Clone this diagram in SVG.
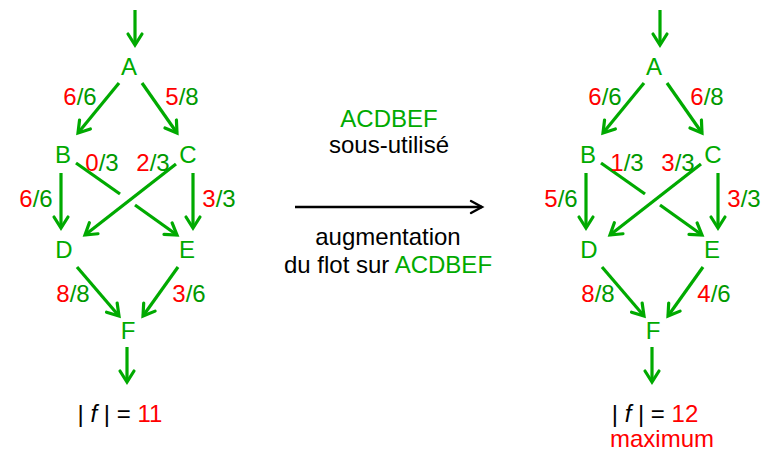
<svg xmlns="http://www.w3.org/2000/svg" width="776" height="453" viewBox="0 0 776 453">
<style>
text{font-family:"Liberation Sans",Arial,sans-serif;font-size:24px;text-anchor:middle}
.n{fill:#00AA00}
.g{fill:#009900}
.r{fill:#FF0000}
.k{fill:#000000}
.e{stroke:#00AA00;stroke-width:3.2;fill:none}
.ea{stroke:#00AA00;stroke-width:3.2;fill:none;marker-end:url(#ah)}
</style>
<defs>
<marker id="ah" markerUnits="userSpaceOnUse" markerWidth="20" markerHeight="20" viewBox="-14 -10 16 20" refX="0" refY="0" orient="auto">
<path d="M-11,-7 L0,0 L-11,7" fill="none" stroke="#00AA00" stroke-width="3.2" stroke-linecap="round" stroke-linejoin="miter"/>
</marker>
<marker id="bh" markerUnits="userSpaceOnUse" markerWidth="20" markerHeight="20" viewBox="-14 -10 16 20" refX="0" refY="0" orient="auto">
<path d="M-11,-6 L0,0 L-11,6" fill="none" stroke="#000" stroke-width="2.4" stroke-linecap="round"/>
</marker>
</defs>
<rect width="776" height="453" fill="#fff"/>

<g id="connectors">
<!-- left graph -->
<line class="ea" x1="135" y1="10" x2="135" y2="45"/>
<line class="ea" x1="119" y1="83" x2="78" y2="133"/>
<line class="ea" x1="142" y1="83" x2="177" y2="133"/>
<line class="ea" x1="61" y1="173" x2="61" y2="228"/>
<line class="ea" x1="193" y1="173" x2="193" y2="228"/>
<line class="e" x1="76" y1="163" x2="120" y2="194"/>
<line class="ea" x1="135" y1="205" x2="177" y2="235"/>
<line class="ea" x1="176" y1="164" x2="85" y2="235"/>
<line class="ea" x1="77" y1="267" x2="119" y2="316"/>
<line class="ea" x1="178" y1="267" x2="143" y2="316"/>
<line class="ea" x1="127" y1="347" x2="127" y2="382"/>
<!-- right graph -->
<g transform="translate(525,0)">
<line class="ea" x1="135" y1="10" x2="135" y2="45"/>
<line class="ea" x1="119" y1="83" x2="78" y2="133"/>
<line class="ea" x1="142" y1="83" x2="177" y2="133"/>
<line class="ea" x1="61" y1="173" x2="61" y2="228"/>
<line class="ea" x1="193" y1="173" x2="193" y2="228"/>
<line class="e" x1="76" y1="163" x2="120" y2="194"/>
<line class="ea" x1="135" y1="205" x2="177" y2="235"/>
<line class="ea" x1="176" y1="164" x2="85" y2="235"/>
<line class="ea" x1="77" y1="267" x2="119" y2="316"/>
<line class="ea" x1="178" y1="267" x2="143" y2="316"/>
<line class="ea" x1="127" y1="347" x2="127" y2="382"/>
</g>
<!-- middle arrow -->
<line x1="295" y1="207" x2="482" y2="207" stroke="#000" stroke-width="2.4" marker-end="url(#bh)"/>
</g>

<g id="edge-labels-left">
<text x="80" y="105"><tspan class="r">6</tspan><tspan class="g">/6</tspan></text>
<text x="182" y="105"><tspan class="r">5</tspan><tspan class="g">/8</tspan></text>
<text x="102" y="171"><tspan class="r">0</tspan><tspan class="g">/3</tspan></text>
<text x="153" y="171"><tspan class="r">2</tspan><tspan class="g">/3</tspan></text>
<text x="36" y="207"><tspan class="r">6</tspan><tspan class="g">/6</tspan></text>
<text x="219" y="207"><tspan class="r">3</tspan><tspan class="g">/3</tspan></text>
<text x="73" y="302"><tspan class="r">8</tspan><tspan class="g">/8</tspan></text>
<text x="189" y="302"><tspan class="r">3</tspan><tspan class="g">/6</tspan></text>
</g>
<g id="edge-labels-right">
<text x="605" y="105"><tspan class="r">6</tspan><tspan class="g">/6</tspan></text>
<text x="707" y="105"><tspan class="r">6</tspan><tspan class="g">/8</tspan></text>
<text x="627" y="171"><tspan class="r">1</tspan><tspan class="g">/3</tspan></text>
<text x="678" y="171"><tspan class="r">3</tspan><tspan class="g">/3</tspan></text>
<text x="561" y="207"><tspan class="r">5</tspan><tspan class="g">/6</tspan></text>
<text x="744" y="207"><tspan class="r">3</tspan><tspan class="g">/3</tspan></text>
<text x="598" y="302"><tspan class="r">8</tspan><tspan class="g">/8</tspan></text>
<text x="714" y="302"><tspan class="r">4</tspan><tspan class="g">/6</tspan></text>
</g>

<g id="L-A"><text class="n" x="129" y="75">A</text></g>
<g id="L-B"><text class="n" x="63" y="163">B</text></g>
<g id="L-C"><text class="n" x="188" y="163">C</text></g>
<g id="L-D"><text class="n" x="64" y="258">D</text></g>
<g id="L-E"><text class="n" x="187" y="258">E</text></g>
<g id="L-F"><text class="n" x="128" y="339">F</text></g>

<g id="R-A"><text class="n" x="654" y="75">A</text></g>
<g id="R-B"><text class="n" x="588" y="163">B</text></g>
<g id="R-C"><text class="n" x="713" y="163">C</text></g>
<g id="R-D"><text class="n" x="589" y="258">D</text></g>
<g id="R-E"><text class="n" x="712" y="258">E</text></g>
<g id="R-F"><text class="n" x="653" y="339">F</text></g>

<g id="flow-left"><text class="k" x="120" y="422">| <tspan font-style="italic">f</tspan> | = <tspan class="r">11</tspan></text></g>
<g id="flow-right">
<text class="k" x="655" y="422">| <tspan font-style="italic">f</tspan> | = <tspan class="r">12</tspan></text>
<text class="r" x="662" y="447">maximum</text>
</g>

<g id="middle">
<text class="n" x="389" y="127">ACDBEF</text>
<text class="k" x="389" y="153">sous-utilisé</text>
<text class="k" x="388" y="245">augmentation</text>
<text class="k" x="388" y="273">du flot sur <tspan class="n">ACDBEF</tspan></text>
</g>
</svg>
